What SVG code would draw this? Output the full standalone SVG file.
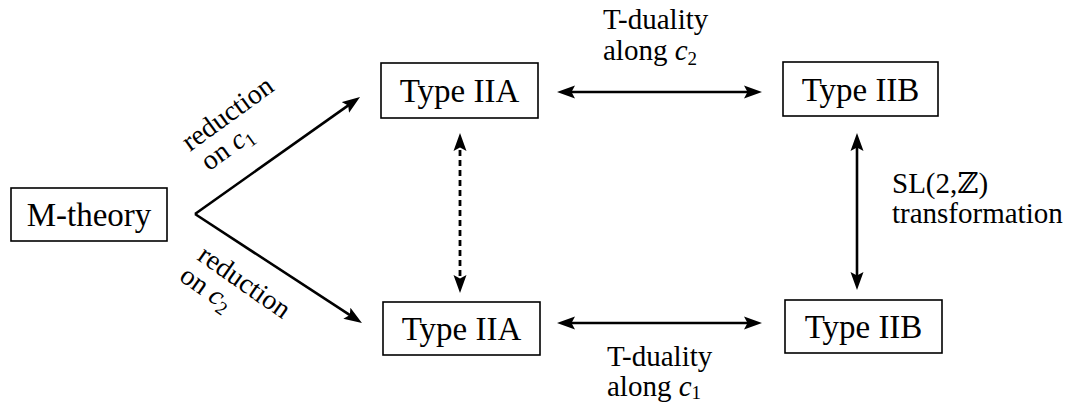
<svg xmlns="http://www.w3.org/2000/svg" width="1074" height="405" viewBox="0 0 1074 405">
<style>
  .box { fill: #fff; stroke: #000; stroke-width: 1.6; }
  .node { font-family: "Liberation Serif", "DejaVu Serif", serif; font-size: 33px; text-anchor: middle; fill: #000; }
  .lbl { font-family: "Liberation Serif", "DejaVu Serif", serif; font-size: 29px; fill: #000; }
  .rl { font-size: 28px; }
  .it { font-style: italic; }
  .sub { font-size: 19px; }
  .edge { fill: none; stroke: #000; stroke-width: 2.6; marker-end: url(#ah); }
  .both { marker-start: url(#ah); }
  .dash { stroke-dasharray: 6 4; stroke-width: 2.8; }
</style>
<defs>
  <marker id="ah" markerUnits="userSpaceOnUse" markerWidth="20" markerHeight="14" refX="11" refY="6.5" orient="auto-start-reverse" viewBox="0 0 20 13">
    <path d="M0,0 L18,6.5 L0,13 L3.5,6.5 z" fill="#000"/>
  </marker>
</defs>
<g id="connectors">
  <path class="edge" d="M195,214 L354.3,101.1"/>
  <path class="edge" d="M195,214 L356.1,319.2"/>
  <path class="edge both" d="M564,92 L755,92"/>
  <path class="edge both" d="M564,323 L755,323"/>
  <path class="edge both" d="M857,140 L857,283"/>
  <path class="edge both dash" d="M460,140 L460,286"/>
</g>
<g id="labels">
  <g transform="translate(190,152) rotate(-36)">
    <text class="lbl rl" x="0" y="0">reduction</text>
    <text class="lbl rl" x="4" y="27">on <tspan class="it">c</tspan><tspan class="sub" dy="5">1</tspan></text>
  </g>
  <g transform="translate(196,259) rotate(35)">
    <text class="lbl rl" x="0" y="0">reduction</text>
    <text class="lbl rl" x="-3" y="27">on <tspan class="it">c</tspan><tspan class="sub" dy="5">2</tspan></text>
  </g>
  <text class="lbl" x="603" y="29">T-duality</text>
  <text class="lbl" x="603" y="60">along <tspan class="it">c</tspan><tspan class="sub" dy="5">2</tspan></text>
  <text class="lbl" x="607" y="366">T-duality</text>
  <text class="lbl" x="607" y="396">along <tspan class="it">c</tspan><tspan class="sub" dy="3">1</tspan></text>
  <text class="lbl" x="892" y="193">SL(2,ℤ)</text>
  <text class="lbl" x="892" y="223">transformation</text>
</g>
<g id="m-theory">
  <rect class="box" x="11" y="188" width="156" height="53"/>
  <text class="node" x="89" y="226">M-theory</text>
</g>
<g id="iia-top">
  <rect class="box" x="381" y="63" width="157" height="55"/>
  <text class="node" x="459.5" y="102">Type IIA</text>
</g>
<g id="iib-top">
  <rect class="box" x="783" y="62" width="155" height="54"/>
  <text class="node" x="860.5" y="100.5">Type IIB</text>
</g>
<g id="iia-bottom">
  <rect class="box" x="383" y="302" width="157" height="53"/>
  <text class="node" x="461.5" y="340">Type IIA</text>
</g>
<g id="iib-bottom">
  <rect class="box" x="785" y="300" width="157" height="53"/>
  <text class="node" x="863.5" y="338">Type IIB</text>
</g>
</svg>
